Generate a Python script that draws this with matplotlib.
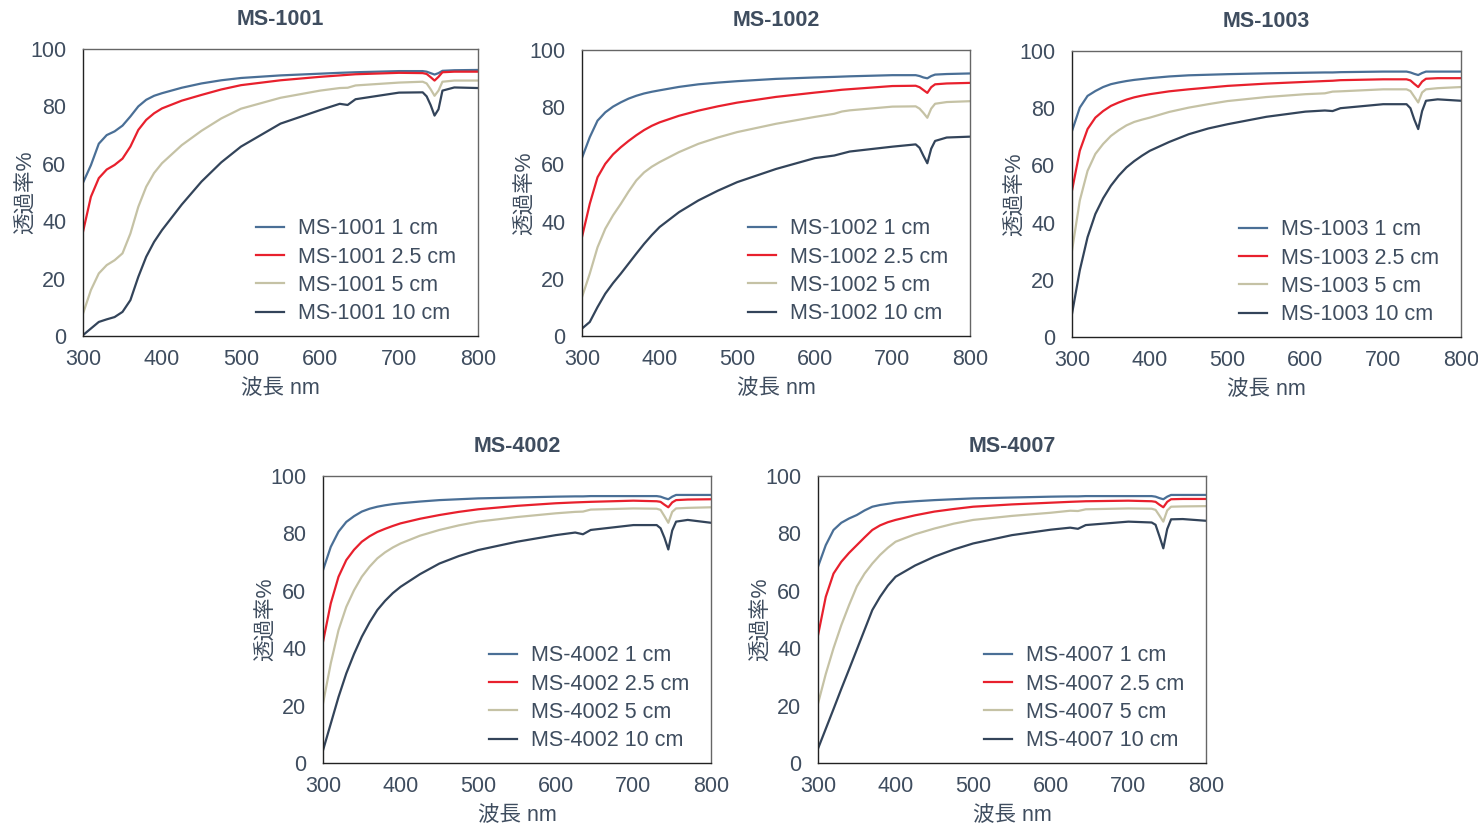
import matplotlib
matplotlib.use("Agg")
import matplotlib.pyplot as plt

plt.rcParams['font.family'] = ['Liberation Sans', 'Noto Sans CJK JP', 'DejaVu Sans']

# ---------------- data ----------------
wavelength = [300, 310, 320, 330, 340, 350, 360, 370, 380, 390, 400, 425, 450, 475, 500,
              550, 600, 625, 635, 645, 700, 730, 735, 740, 745, 750, 755, 770, 800]

titles = ["MS-1001", "MS-1002", "MS-1003", "MS-4002", "MS-4007"]
path_lengths = ["1 cm", "2.5 cm", "5 cm", "10 cm"]

ms1001_1cm = [53.4, 59.5, 67, 70, 71.3, 73.3, 76.5, 80, 82.3, 83.7, 84.6, 86.5, 88, 89.1, 89.9,
              90.8, 91.4, 91.7, 91.8, 91.9, 92.3, 92.3, 92.1, 91.6, 91.1, 91.6, 92.4, 92.6, 92.7]
ms1001_25cm = [36.3, 48.5, 55, 58, 59.6, 61.8, 66, 71.8, 75.3, 77.6, 79.3, 82, 84, 85.9, 87.4,
               89.1, 90.3, 90.8, 91, 91.2, 91.7, 91.6, 91.3, 90.2, 89, 90.3, 91.9, 92.1, 92.1]
ms1001_5cm = [7.8, 16, 21.8, 24.7, 26.4, 28.8, 35.7, 45, 52, 56.8, 60.2, 66.5, 71.5, 75.8, 79.2,
              83, 85.5, 86.4, 86.5, 87.3, 88.3, 88.6, 88, 86, 83.7, 85.5, 88.6, 89, 89]
ms1001_10cm = [0.3, 2.6, 4.9, 5.8, 6.6, 8.4, 12.5, 20.6, 27.6, 32.8, 36.9, 45.8, 53.8, 60.5, 66,
               74, 78.7, 80.9, 80.5, 82.5, 84.8, 84.9, 83.5, 80.5, 76.8, 79, 85.5, 86.6, 86.4]

ms1002_1cm = [62.3, 69.5, 75.3, 78.2, 80.2, 81.7, 83, 84, 84.8, 85.4, 85.9, 87.1, 88, 88.6, 89.1,
              89.9, 90.4, 90.6, 90.7, 90.8, 91.2, 91.2, 90.9, 90.4, 90.1, 90.9, 91.4, 91.6, 91.8]
ms1002_25cm = [34.6, 46.2, 55.5, 60.2, 63.5, 66, 68.2, 70.2, 72, 73.5, 74.7, 77, 78.8, 80.3, 81.6,
               83.6, 85.1, 85.8, 86.1, 86.3, 87.4, 87.5, 87, 86, 85, 87, 88, 88.3, 88.5]
ms1002_5cm = [13.6, 21.8, 31, 37.5, 42.2, 46.2, 50.5, 54.4, 57.2, 59.2, 60.8, 64.3, 67.2, 69.4, 71.3,
              74.2, 76.6, 77.7, 78.5, 78.9, 80.2, 80.3, 79.5, 78, 76.3, 79.5, 81.2, 81.8, 82.1]
ms1002_10cm = [2.6, 4.9, 10.1, 14.8, 18.5, 21.8, 25.3, 28.8, 32.2, 35.3, 38.1, 43.3, 47.4, 50.8, 53.8,
               58.4, 62.2, 63.1, 63.8, 64.5, 66.2, 67, 65.8, 63, 60.4, 65.5, 68.2, 69.4, 69.7]

ms1003_1cm = [72, 80.2, 84.3, 86, 87.4, 88.4, 89, 89.5, 89.9, 90.2, 90.5, 91.1, 91.5, 91.7, 91.9,
              92.2, 92.4, 92.5, 92.5, 92.6, 92.8, 92.8, 92.5, 92, 91.6, 92.3, 92.8, 92.8, 92.8]
ms1003_25cm = [51.2, 65.1, 72.7, 76.7, 79, 80.8, 82, 83, 83.8, 84.4, 84.9, 85.9, 86.6, 87.2, 87.8,
               88.6, 89.2, 89.5, 89.6, 89.8, 90.1, 90.1, 89.7, 88.5, 87.4, 89.3, 90.3, 90.5, 90.5]
ms1003_5cm = [30.2, 47.7, 58.1, 64, 67.5, 70.3, 72.3, 74, 75.2, 76, 76.7, 78.7, 80.2, 81.4, 82.5,
              83.9, 84.9, 85.2, 85.8, 85.9, 86.6, 86.6, 86, 84, 82, 85.5, 86.6, 87, 87.4]
ms1003_10cm = [8.1, 23.3, 34.9, 43, 48.5, 52.9, 56.4, 59.3, 61.5, 63.4, 65.1, 68.2, 70.9, 72.9, 74.4,
               77, 78.8, 79.2, 79, 80, 81.4, 81.4, 80, 76, 72.7, 79, 82.6, 83.1, 82.6]

ms4002_1cm = [67.2, 75.3, 80.6, 84, 86, 87.6, 88.6, 89.3, 89.8, 90.2, 90.5, 91.1, 91.6, 91.9, 92.2,
              92.5, 92.8, 92.9, 92.9, 93, 93, 93, 92.8, 92.3, 91.9, 92.8, 93.4, 93.4, 93.4]
ms4002_25cm = [42.2, 55.6, 64.9, 70.7, 74.3, 77.1, 79, 80.5, 81.6, 82.6, 83.5, 85.1, 86.4, 87.5, 88.4,
               89.6, 90.5, 90.8, 90.9, 91, 91.4, 91.2, 91, 90, 89.1, 90.8, 91.6, 91.8, 91.9]
ms4002_5cm = [20.7, 34.7, 46.3, 54.4, 60.2, 64.9, 68.4, 71.3, 73.4, 75.1, 76.5, 79.2, 81.2, 82.8, 84.1,
              85.7, 87, 87.5, 87.6, 88.3, 88.7, 88.6, 88.2, 86, 83.7, 87.5, 88.7, 88.9, 89.1]
ms4002_10cm = [4.4, 13.7, 23, 31.2, 38, 44, 49, 53.3, 56.5, 59.2, 61.4, 65.8, 69.5, 72.1, 74.2,
               77.1, 79.4, 80.3, 79.7, 81.2, 82.9, 82.9, 81.8, 78.5, 74.4, 81, 84.1, 84.7, 83.7]

ms4007_1cm = [68.4, 75.9, 81.2, 83.7, 85.2, 86.4, 88, 89.3, 89.9, 90.3, 90.7, 91.2, 91.6, 91.9, 92.2,
              92.5, 92.8, 92.9, 92.9, 93, 93, 93, 92.8, 92.3, 91.9, 92.8, 93.4, 93.4, 93.4]
ms4007_25cm = [44.5, 57.9, 66, 70.1, 73.2, 75.9, 78.6, 81.2, 82.8, 83.9, 84.7, 86.3, 87.6, 88.5, 89.3,
               90.1, 90.7, 91, 91.1, 91.2, 91.4, 91.2, 91, 90, 89.1, 91, 91.9, 92, 92]
ms4007_5cm = [20.7, 31, 40, 48, 55, 61.5, 66, 69.5, 72.5, 75, 77.1, 79.7, 81.7, 83.4, 84.7,
              86.1, 87.2, 87.9, 87.8, 88.4, 88.7, 88.6, 88.2, 86.2, 84.1, 88, 89.3, 89.4, 89.5]
ms4007_10cm = [5, 11.9, 18.8, 25.8, 32.6, 39.5, 46.4, 53.3, 57.9, 61.8, 64.9, 68.8, 71.9, 74.4, 76.5,
               79.4, 81.3, 82, 81.6, 82.9, 84.1, 83.8, 83, 79, 74.8, 81.5, 84.9, 85, 84.4]

series_by_chart = [
    [ms1001_1cm, ms1001_25cm, ms1001_5cm, ms1001_10cm],
    [ms1002_1cm, ms1002_25cm, ms1002_5cm, ms1002_10cm],
    [ms1003_1cm, ms1003_25cm, ms1003_5cm, ms1003_10cm],
    [ms4002_1cm, ms4002_25cm, ms4002_5cm, ms4002_10cm],
    [ms4007_1cm, ms4007_25cm, ms4007_5cm, ms4007_10cm],
]

x_ticks = [300, 400, 500, 600, 700, 800]
y_ticks = [0, 20, 40, 60, 80, 100]

# ---------------- style ----------------
colors = ['#4A6F96', '#E8202D', '#C5C2A5', '#33445A']
text_color = '#3F4D5F'
W, H = 1478, 825
# axes boxes in pixels: left, top, right, bottom
boxes = [
    (83, 49, 478, 336),
    (582, 50, 970, 336),
    (1072, 51, 1461, 337),
    (323, 476, 711, 763),
    (818, 476, 1206, 763),
]

fig = plt.figure(figsize=(W / 100, H / 100), dpi=100)

for title, series, (l, t, r, b) in zip(titles, series_by_chart, boxes):
    ax = fig.add_axes([l / W, 1 - b / H, (r - l) / W, (b - t) / H])
    for vals, lab, c in zip(series, path_lengths, colors):
        ax.plot(wavelength, vals, color=c, lw=1.6, label=f"{title} {lab}",
                solid_joinstyle='round')
    ax.set_xlim(300, 800)
    ax.set_ylim(0, 100)
    ax.set_xticks(x_ticks)
    ax.set_yticks(y_ticks)
    ax.tick_params(length=0, labelsize=15.5, labelcolor=text_color)
    ax.tick_params(axis='x', pad=9.5)
    ax.tick_params(axis='y', pad=12)
    for side in ['left', 'bottom']:
        ax.spines[side].set_color('#222222')
        ax.spines[side].set_linewidth(1.0)
    for side in ['top', 'right']:
        ax.spines[side].set_color('#666666')
        ax.spines[side].set_linewidth(1.0)
    ax.set_title(title, fontsize=15.5, fontweight='bold', color=text_color, pad=17)
    ax.set_xlabel("波長 nm", fontsize=15.5, color=text_color, labelpad=6)
    ax.set_ylabel("透過率%", fontsize=15.5, color=text_color, labelpad=-4)
    dx = 10 / (r - l)
    ax.legend(loc='lower right', bbox_to_anchor=(1 - dx, 0.0), frameon=False,
              fontsize=15.5, labelcolor=text_color,
              handlelength=1.3, handletextpad=0.65, labelspacing=0.34,
              borderaxespad=0.15)

fig.savefig("out.png", dpi=100)
